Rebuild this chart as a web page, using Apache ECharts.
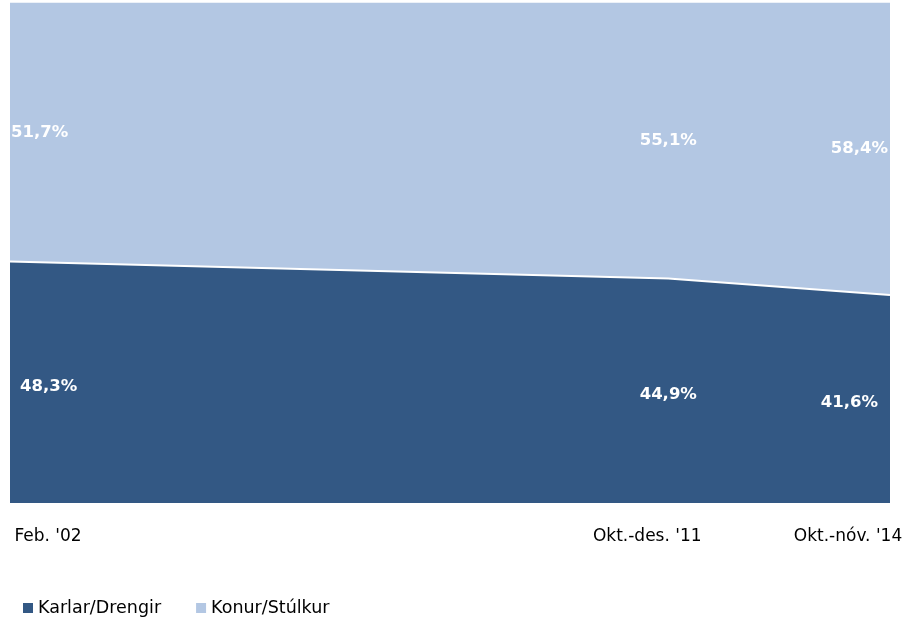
<!DOCTYPE html>
<html>
<head>
<meta charset="utf-8">
<script src="https://cdn.jsdelivr.net/npm/echarts@6/dist/echarts.min.js"></script>
<style>
  html, body { margin: 0; padding: 0; background: #fff; }
  #chart { width: 916px; height: 622px; }
</style>
</head>
<body>
<div id="chart"></div>
<script>
// time position of each survey (decimal years) and its label
const xPos = [2002.1, 2011.6, 2014.8]
const xLabels = ["Feb. '02", "Okt.-des. '11", "Okt.-nóv. '14"]
const seriesNames = ['Karlar/Drengir', 'Konur/Stúlkur']
const karlar = [48.3, 44.9, 41.6]
const konur = [51.7, 55.1, 58.4]

const darkBlue = '#335884'
const lightBlue = '#b3c7e3'
const font = 'DejaVu Sans'

function fmt (v) {
  return v.toFixed(1).replace('.', ',') + '%'
}

// label rows: x, middle of band, text, point index, band (0 karlar, 1 konur)
function makeLabelData () {
  let rows = []
  for (let i = 0; i < xPos.length; i++) {
    rows.push([xPos[i], karlar[i] / 2, fmt(karlar[i]), i, 0])
    rows.push([xPos[i], karlar[i] + konur[i] / 2, fmt(konur[i]), i, 1])
  }
  return rows
}

const labelStyle = { fontFamily: font, fontSize: 17, color: '#000' }

const chart = echarts.init(document.getElementById('chart'))
const option = {
  animation: false,
  grid: { left: 10, right: 26, top: 3, bottom: 119 },
  legend: {
    left: 18,
    top: 594,
    itemWidth: 10,
    itemHeight: 10,
    itemGap: 35,
    icon: 'rect',
    textStyle: { fontFamily: font, fontSize: 17.5, color: '#000' },
    data: seriesNames
  },
  xAxis: {
    type: 'value',
    min: xPos[0],
    max: xPos[xPos.length - 1],
    axisLine: { show: false },
    axisTick: { show: false },
    splitLine: { show: false },
    axisLabel: {
      customValues: xPos,
      margin: 25,
      align: 'center',
      fontFamily: font,
      fontSize: 17,
      color: '#000',
      formatter: function (v) {
        const i = xPos.indexOf(v)
        return i >= 0 ? '{l' + i + '|' + xLabels[i] + '}' : ''
      },
      rich: {
        l0: Object.assign({ padding: [0, 0, 0, 76] }, labelStyle),
        l1: Object.assign({ padding: [0, 42, 0, 0] }, labelStyle),
        l2: Object.assign({ padding: [0, 84, 0, 0] }, labelStyle)
      }
    }
  },
  yAxis: {
    type: 'value',
    min: 0,
    max: 100,
    show: false
  },
  series: [
    {
      name: seriesNames[0],
      type: 'line',
      symbol: 'none',
      data: xPos.map((x, i) => [x, karlar[i]]),
      itemStyle: { color: darkBlue },
      lineStyle: { color: '#fff', width: 2 },
      areaStyle: { color: darkBlue, opacity: 1 },
      z: 3
    },
    {
      // konur band sits on top of karlar, so its upper edge is the sum
      name: seriesNames[1],
      type: 'line',
      symbol: 'none',
      data: xPos.map((x, i) => [x, karlar[i] + konur[i]]),
      itemStyle: { color: lightBlue },
      lineStyle: { color: lightBlue, width: 1 },
      areaStyle: { color: lightBlue, opacity: 1 },
      z: 2
    },
    {
      type: 'custom',
      silent: true,
      z: 10,
      data: makeLabelData(),
      renderItem: function (params, api) {
        const p = api.coord([api.value(0), api.value(1)])
        const idx = api.value(3)
        const band = api.value(4)
        let align = 'center'
        let x = p[0]
        let y = p[1]
        if (idx === 0) { align = 'left'; x = p[0] + (band === 0 ? 10 : 1) }
        if (idx === xPos.length - 1) { align = 'right'; x = p[0] - (band === 0 ? 12 : 2) }
        if (band === 0) y += 4
        return {
          type: 'text',
          style: {
            x: x,
            y: y,
            text: api.value(2),
            align: align,
            verticalAlign: 'middle',
            fill: '#fff',
            fontFamily: font,
            fontWeight: 'bold',
            fontSize: 16.5
          }
        }
      }
    }
  ]
}
chart.setOption(option)
</script>
</body>
</html>
